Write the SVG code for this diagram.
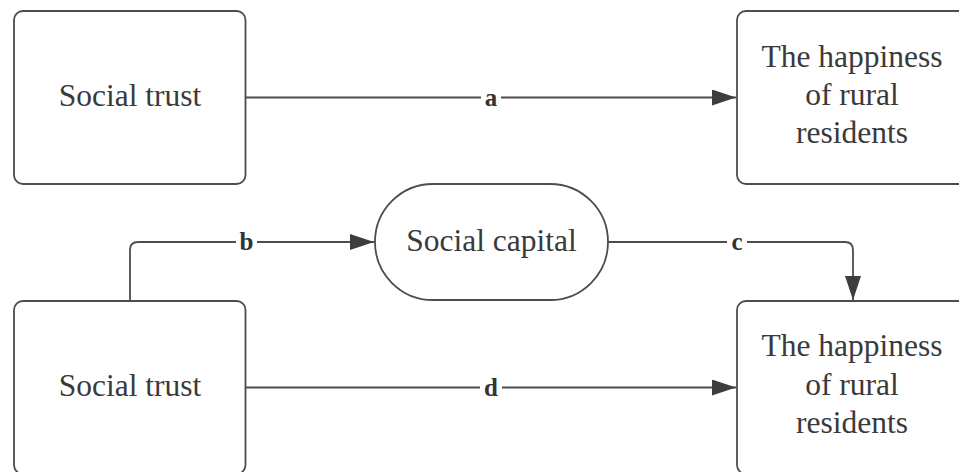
<svg xmlns="http://www.w3.org/2000/svg" width="959" height="472" viewBox="0 0 959 472">
  <style>
    .box { fill: #ffffff; stroke: #4d4d4d; stroke-width: 1.8; }
    .txt { font-family: "Liberation Serif", "Times New Roman", serif; font-size: 31.5px; fill: #3a3a3a; text-anchor: middle; }
    .wire { fill: none; stroke: #4d4d4d; stroke-width: 1.8; }
    .lbl { font-family: "Liberation Serif", "Times New Roman", serif; font-size: 25px; font-weight: bold; fill: #333333; text-anchor: middle; }
    .lblbg { fill: #ffffff; }
  </style>
  <defs>
    <marker id="arrow" viewBox="0 0 24 16" refX="24" refY="8" markerWidth="24" markerHeight="16" markerUnits="userSpaceOnUse" orient="auto">
      <path d="M0,0 L24,8 L0,16 Z" fill="#3d3d3d"/>
    </marker>
  </defs>
  <rect width="959" height="472" fill="#ffffff"/>

  <g id="connectors">
    <!-- a: trust -> happiness (top) -->
    <path class="wire" d="M246,97.5 L736,97.5" marker-end="url(#arrow)"/>
    <!-- b: trust (bottom) -> social capital -->
    <path class="wire" d="M130,301 L130,250 Q130,242 138,242 L374,242" marker-end="url(#arrow)"/>
    <!-- c: social capital -> happiness (bottom) -->
    <path class="wire" d="M608,242 L845,242 Q853,242 853,250 L853,300" marker-end="url(#arrow)"/>
    <!-- d: trust -> happiness (bottom) -->
    <path class="wire" d="M246,387.5 L736,387.5" marker-end="url(#arrow)"/>

    <rect class="lblbg" x="481" y="86" width="20" height="22"/>
    <text class="lbl" x="491" y="105.5">a</text>
    <rect class="lblbg" x="236" y="228" width="21" height="26"/>
    <text class="lbl" x="246.5" y="250">b</text>
    <rect class="lblbg" x="727" y="231" width="20" height="22"/>
    <text class="lbl" x="737" y="250">c</text>
    <rect class="lblbg" x="480" y="374" width="22" height="26"/>
    <text class="lbl" x="491" y="395.5">d</text>
  </g>

  <g id="trust-top">
    <rect class="box" x="14" y="11" width="231.5" height="173" rx="9"/>
    <text class="txt" x="130" y="106">Social trust</text>
  </g>

  <g id="happiness-top">
    <rect class="box" x="737" y="11" width="232" height="173" rx="9"/>
    <text class="txt" x="852" y="67">The happiness</text>
    <text class="txt" x="852" y="105">of rural</text>
    <text class="txt" x="852" y="143">residents</text>
  </g>

  <g id="social-capital">
    <rect class="box" x="375" y="184" width="233" height="116" rx="58"/>
    <text class="txt" x="491.5" y="251">Social capital</text>
  </g>

  <g id="trust-bottom">
    <rect class="box" x="14" y="301" width="231.5" height="173" rx="9"/>
    <text class="txt" x="130" y="396">Social trust</text>
  </g>

  <g id="happiness-bottom">
    <rect class="box" x="737" y="301" width="232" height="173" rx="9"/>
    <text class="txt" x="852" y="356">The happiness</text>
    <text class="txt" x="852" y="395">of rural</text>
    <text class="txt" x="852" y="433">residents</text>
  </g>
</svg>
